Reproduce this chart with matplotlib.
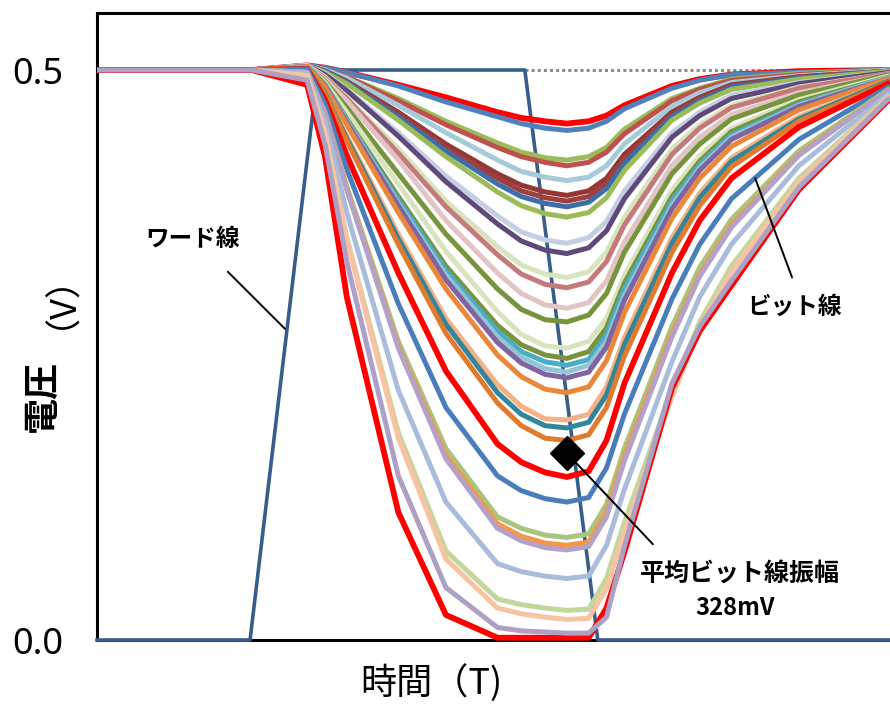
import matplotlib
matplotlib.use('Agg')
import matplotlib.pyplot as plt

plt.rcParams['font.family'] = ['Noto Sans CJK JP', 'DejaVu Sans']

# sample times (T) for the bit line traces
t_bl = [0, 3.9, 5.3, 5.75, 6.3, 7.6, 8.8, 10.1, 10.7, 11.3, 11.85, 12.4, 12.85, 13.3,
        14.5, 15.2, 16.0, 17.7, 20.0]

# bit line voltages (V), shallow -> deep
bl_volts = [
    [0.5, 0.5, 0.504, 0.502, 0.498, 0.487, 0.476, 0.463, 0.458, 0.455, 0.453, 0.455, 0.460, 0.469, 0.486, 0.492, 0.496, 0.499, 0.5],
    [0.5, 0.5, 0.504, 0.502, 0.498, 0.486, 0.472, 0.459, 0.453, 0.449, 0.447, 0.449, 0.455, 0.466, 0.484, 0.491, 0.496, 0.498, 0.5],
    [0.5, 0.5, 0.504, 0.500, 0.494, 0.475, 0.455, 0.436, 0.428, 0.423, 0.421, 0.424, 0.432, 0.448, 0.475, 0.484, 0.492, 0.497, 0.5],
    [0.5, 0.5, 0.504, 0.500, 0.494, 0.473, 0.452, 0.432, 0.424, 0.419, 0.416, 0.419, 0.428, 0.444, 0.473, 0.483, 0.491, 0.496, 0.5],
    [0.5, 0.5, 0.504, 0.500, 0.493, 0.469, 0.445, 0.421, 0.411, 0.406, 0.403, 0.406, 0.416, 0.435, 0.468, 0.480, 0.489, 0.495, 0.5],
    [0.5, 0.5, 0.504, 0.499, 0.490, 0.463, 0.435, 0.409, 0.399, 0.393, 0.390, 0.394, 0.405, 0.426, 0.463, 0.476, 0.487, 0.494, 0.499],
    [0.5, 0.5, 0.504, 0.499, 0.490, 0.461, 0.432, 0.405, 0.394, 0.388, 0.385, 0.389, 0.401, 0.422, 0.461, 0.475, 0.486, 0.494, 0.499],
    [0.5, 0.5, 0.504, 0.499, 0.489, 0.459, 0.429, 0.400, 0.389, 0.383, 0.380, 0.384, 0.396, 0.418, 0.459, 0.473, 0.485, 0.493, 0.499],
    [0.5, 0.5, 0.504, 0.498, 0.488, 0.456, 0.424, 0.393, 0.381, 0.374, 0.371, 0.375, 0.388, 0.412, 0.456, 0.471, 0.483, 0.492, 0.499],
    [0.5, 0.5, 0.504, 0.497, 0.483, 0.445, 0.407, 0.372, 0.358, 0.351, 0.348, 0.353, 0.367, 0.394, 0.445, 0.463, 0.478, 0.489, 0.498],
    [0.5, 0.5, 0.504, 0.496, 0.482, 0.442, 0.402, 0.365, 0.350, 0.342, 0.339, 0.344, 0.359, 0.387, 0.441, 0.460, 0.475, 0.488, 0.498],
    [0.5, 0.5, 0.504, 0.494, 0.476, 0.431, 0.385, 0.345, 0.329, 0.321, 0.318, 0.323, 0.340, 0.371, 0.431, 0.452, 0.469, 0.485, 0.497],
    [0.5, 0.5, 0.503, 0.493, 0.475, 0.427, 0.380, 0.338, 0.321, 0.312, 0.309, 0.314, 0.332, 0.364, 0.426, 0.449, 0.467, 0.484, 0.497],
    [0.5, 0.5, 0.503, 0.492, 0.473, 0.421, 0.368, 0.322, 0.304, 0.294, 0.291, 0.296, 0.315, 0.349, 0.416, 0.441, 0.461, 0.480, 0.496],
    [0.5, 0.5, 0.503, 0.490, 0.467, 0.409, 0.356, 0.308, 0.290, 0.281, 0.279, 0.285, 0.304, 0.340, 0.409, 0.435, 0.457, 0.478, 0.496],
    [0.5, 0.5, 0.503, 0.489, 0.463, 0.400, 0.341, 0.288, 0.268, 0.258, 0.256, 0.262, 0.282, 0.320, 0.395, 0.425, 0.449, 0.474, 0.495],
    [0.5, 0.5, 0.503, 0.487, 0.457, 0.389, 0.328, 0.276, 0.259, 0.250, 0.247, 0.253, 0.274, 0.313, 0.389, 0.420, 0.446, 0.472, 0.494],
    [0.5, 0.5, 0.503, 0.487, 0.456, 0.386, 0.324, 0.271, 0.253, 0.244, 0.241, 0.246, 0.268, 0.308, 0.385, 0.417, 0.443, 0.470, 0.494],
    [0.5, 0.5, 0.503, 0.486, 0.455, 0.383, 0.320, 0.266, 0.248, 0.238, 0.235, 0.241, 0.262, 0.302, 0.381, 0.414, 0.441, 0.469, 0.494],
    [0.5, 0.5, 0.503, 0.486, 0.454, 0.381, 0.316, 0.261, 0.243, 0.233, 0.230, 0.235, 0.257, 0.298, 0.378, 0.412, 0.439, 0.468, 0.493],
    [0.5, 0.5, 0.503, 0.485, 0.452, 0.375, 0.308, 0.250, 0.231, 0.220, 0.217, 0.222, 0.245, 0.287, 0.370, 0.405, 0.433, 0.465, 0.493],
    [0.5, 0.5, 0.501, 0.480, 0.442, 0.356, 0.282, 0.224, 0.205, 0.194, 0.193, 0.198, 0.222, 0.265, 0.353, 0.392, 0.423, 0.459, 0.491],
    [0.5, 0.5, 0.501, 0.480, 0.440, 0.352, 0.277, 0.217, 0.198, 0.188, 0.186, 0.191, 0.215, 0.259, 0.348, 0.388, 0.420, 0.457, 0.491],
    [0.5, 0.5, 0.501, 0.479, 0.438, 0.347, 0.269, 0.208, 0.188, 0.177, 0.175, 0.180, 0.204, 0.249, 0.340, 0.381, 0.415, 0.455, 0.490],
    [0.5, 0.5, 0.501, 0.474, 0.425, 0.322, 0.236, 0.172, 0.156, 0.147, 0.143, 0.148, 0.175, 0.225, 0.322, 0.368, 0.405, 0.450, 0.489],
    [0.5, 0.5, 0.501, 0.470, 0.413, 0.295, 0.204, 0.144, 0.131, 0.124, 0.121, 0.125, 0.151, 0.198, 0.299, 0.347, 0.387, 0.439, 0.486],
    [0.5, 0.5, 0.498, 0.463, 0.398, 0.262, 0.168, 0.108, 0.098, 0.092, 0.090, 0.093, 0.119, 0.168, 0.275, 0.327, 0.369, 0.429, 0.484],
    [0.5, 0.5, 0.498, 0.462, 0.396, 0.258, 0.162, 0.102, 0.091, 0.085, 0.083, 0.086, 0.112, 0.161, 0.269, 0.321, 0.364, 0.426, 0.483],
    [0.5, 0.5, 0.498, 0.462, 0.395, 0.256, 0.159, 0.098, 0.087, 0.081, 0.079, 0.082, 0.108, 0.157, 0.266, 0.319, 0.362, 0.425, 0.483],
    [0.5, 0.5, 0.497, 0.454, 0.375, 0.219, 0.121, 0.067, 0.060, 0.056, 0.054, 0.056, 0.083, 0.132, 0.244, 0.301, 0.347, 0.416, 0.480],
    [0.5, 0.5, 0.495, 0.445, 0.353, 0.182, 0.078, 0.036, 0.031, 0.028, 0.026, 0.027, 0.054, 0.103, 0.220, 0.279, 0.328, 0.405, 0.478],
    [0.5, 0.5, 0.495, 0.445, 0.351, 0.177, 0.071, 0.028, 0.023, 0.020, 0.018, 0.019, 0.045, 0.094, 0.213, 0.274, 0.323, 0.402, 0.477],
    [0.5, 0.5, 0.487, 0.424, 0.301, 0.112, 0.022, 0.002, 0.002, 0.002, 0.002, 0.002, 0.028, 0.077, 0.221, 0.271, 0.311, 0.395, 0.475],
    [0.5, 0.5, 0.491, 0.435, 0.332, 0.144, 0.046, 0.011, 0.008, 0.007, 0.006, 0.006, 0.020, 0.082, 0.225, 0.275, 0.315, 0.397, 0.476],
]
bl_colors = [
    '#FF0000', '#4F81BD', '#9BBB59', '#C0504D', '#A5CAD8', '#943634', '#A0403E',
    '#3F6DA8', '#9BBB59', '#C5CEE3', '#5F497A', '#D7E4BD', '#C47A7A', '#E2C4C4',
    '#77933C', '#D7E4BD', '#77933C', '#4BACC6', '#93C4D5', '#8064A2', '#E9883D',
    '#F4B183', '#31859C', '#E07A2F', '#FF0000', '#4A7EBB', '#A9C47F', '#F79646',
    '#B3A2C7', '#A9BCDB', '#C3D69B', '#F7C3A3', '#FF0000', '#ADA0C5',
]

# word line pulse
word_t = [0, 3.86, 5.57, 10.79, 12.63, 20]
word_v = [0, 0, 0.5, 0.5, 0, 0]

# precharge reference after word line closes
ref_t = [10.79, 20]
ref_v = [0.5, 0.5]

# average bit line swing marker (328 mV)
avg_t = 11.85
avg_v = 0.164

y_ticks = [0.0, 0.5]
y_ticklabels = ['0.0', '0.5']

fig = plt.figure(figsize=(8.9, 7.04), dpi=100)
ax = fig.add_axes([97 / 890, 64 / 704, 793 / 890, 627 / 704])
ax.set_xlim(0, 20)
ax.set_ylim(0, 0.55)

ax.plot(ref_t, ref_v, color='#8C8C8C', lw=2.2, ls=(0, (1, 1)), zorder=1)
ax.plot(word_t, word_v, color='#385D8A', lw=2.6, zorder=3, clip_on=False)

for v, c in zip(bl_volts, bl_colors):
    w = 4.2 if c == '#FF0000' else 3.6
    ax.plot(t_bl, v, color=c, lw=w, zorder=4, clip_on=False,
            solid_joinstyle='round', solid_capstyle='butt')

ax.plot([avg_t], [avg_v], marker='D', ms=17, color='black', zorder=10, clip_on=False)

# labels and leader lines
line_kw = dict(arrowstyle='-', lw=1.4, color='black', shrinkA=0, shrinkB=0)
ax.annotate('', xy=(4.74, 0.273), xytext=(3.30, 0.323), arrowprops=line_kw)
ax.text(2.42, 0.352, 'ワード線', fontsize=17, fontweight='bold', ha='center', va='center')

ax.annotate('', xy=(16.6, 0.405), xytext=(17.53, 0.318), arrowprops=line_kw, zorder=11)
ax.text(17.58, 0.292, 'ビット線', fontsize=17, fontweight='bold', ha='center', va='center')

ax.annotate('', xy=(avg_t, avg_v), xytext=(14.02, 0.084), arrowprops=line_kw, zorder=11)
ax.text(16.22, 0.058, '平均ビット線振幅', fontsize=18, fontweight='bold', ha='center', va='center')
ax.text(16.09, 0.028, '328mV', fontsize=17, fontweight='bold', ha='center', va='center')

for side in ['top', 'left', 'bottom']:
    ax.spines[side].set_linewidth(2.2)
    ax.spines[side].set_color('black')
ax.spines['right'].set_visible(False)

ax.set_xticks([])
ax.set_yticks(y_ticks)
ax.set_yticklabels(y_ticklabels, family='Noto Sans', fontsize=26)
ax.tick_params(axis='y', length=0, pad=24)

fig.text(431 / 890, 1 - 683 / 704, '時間（T)', fontsize=26, ha='center', va='center')
fig.text(42 / 890, 1 - 396 / 704, '電圧', fontsize=26, fontweight='bold',
         rotation=90, ha='center', va='center')
fig.text(42 / 890, 1 - 282 / 704, '（V）', fontsize=26, rotation=90, ha='center', va='center')

fig.savefig('out.png', dpi=100)
